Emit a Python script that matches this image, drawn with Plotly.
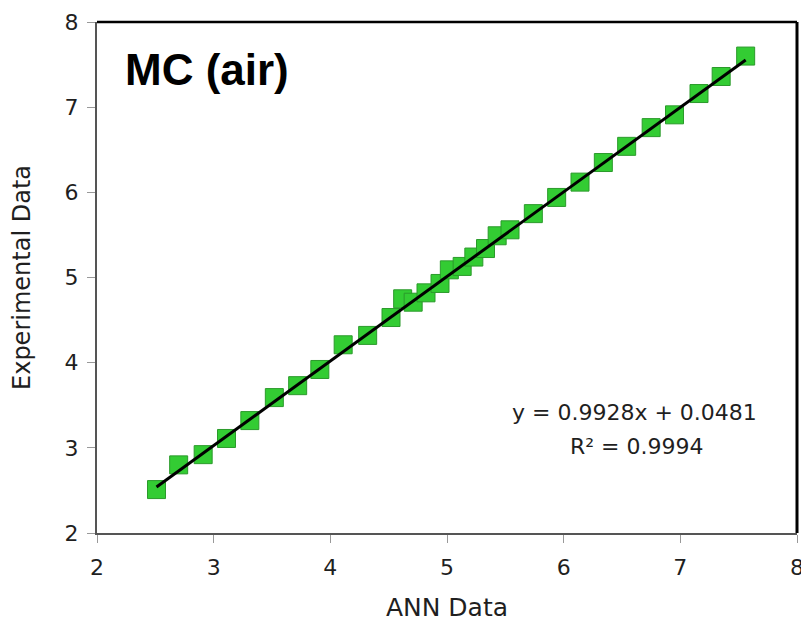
import plotly.graph_objects as go

# ---------- data ----------
ann_data = [2.51, 2.70, 2.91, 3.11, 3.31, 3.52, 3.72, 3.91, 4.11, 4.32, 4.52,
            4.62, 4.71, 4.82, 4.94, 5.02, 5.13, 5.23, 5.33, 5.43, 5.54,
            5.74, 5.94, 6.14, 6.34, 6.54, 6.75, 6.95, 7.16, 7.35, 7.56]
exp_data = [2.51, 2.80, 2.92, 3.11, 3.32, 3.59, 3.73, 3.92, 4.21, 4.32, 4.53,
            4.75, 4.71, 4.82, 4.93, 5.09, 5.13, 5.24, 5.34, 5.49, 5.56,
            5.75, 5.94, 6.12, 6.35, 6.54, 6.76, 6.91, 7.16, 7.36, 7.60]

slope, intercept, r2 = 0.9928, 0.0481, 0.9994
fit_x = [min(ann_data), max(ann_data)]
fit_y = [slope * v + intercept for v in fit_x]

FONT = "DejaVu Sans, sans-serif"
BOLD_FONT = "Liberation Sans, Arial, sans-serif"
TEXT_COLOR = "#1f1f1f"

fig = go.Figure()
fig.add_trace(go.Scatter(
    x=ann_data, y=exp_data, mode="markers",
    marker=dict(symbol="square", size=18, color="#33cc33",
                line=dict(color="#2b9a2b", width=1)),
    showlegend=False,
))
fig.add_trace(go.Scatter(
    x=fit_x, y=fit_y, mode="lines",
    line=dict(color="#000000", width=3),
    showlegend=False,
))

# タイトル（プロット内左上）
fig.add_annotation(x=0.037, y=0.908, xref="paper", yref="paper",
                   text="<b>MC (air)</b>", showarrow=False,
                   xanchor="left", yanchor="middle",
                   font=dict(size=44, color="#000000", family=BOLD_FONT))
# 回帰式
fig.add_annotation(x=6.61, y=3.42, text=f"y = {slope}x + {intercept}",
                   showarrow=False, xanchor="center", yanchor="middle",
                   font=dict(size=22, color=TEXT_COLOR, family=FONT))
fig.add_annotation(x=6.63, y=3.02, text=f"R² = {r2}",
                   showarrow=False, xanchor="center", yanchor="middle",
                   font=dict(size=22, color=TEXT_COLOR, family=FONT))

# 上・右の枠線（黒）
fig.add_shape(type="line", xref="paper", yref="paper", x0=0, x1=1, y0=1, y1=1,
              line=dict(color="#000000", width=2.5))
fig.add_shape(type="line", xref="paper", yref="paper", x0=1, x1=1, y0=0, y1=1,
              line=dict(color="#000000", width=3))

fig.update_xaxes(range=[2, 8], dtick=1, showgrid=False, zeroline=False,
                 showline=True, linecolor="#555555", linewidth=2,
                 ticks="outside", ticklen=8, tickcolor="#999999",
                 ticklabelstandoff=6, ticklabeloverflow="allow",
                 tickfont=dict(size=22, color=TEXT_COLOR, family=FONT),
                 title=dict(text="ANN Data", standoff=21,
                            font=dict(size=25, color=TEXT_COLOR, family=FONT)))
fig.update_yaxes(range=[2, 8], dtick=1, showgrid=False, zeroline=False,
                 showline=True, linecolor="#555555", linewidth=2,
                 ticks="outside", ticklen=8, tickcolor="#999999",
                 ticklabelstandoff=4, ticklabeloverflow="allow",
                 tickfont=dict(size=22, color=TEXT_COLOR, family=FONT),
                 title=dict(text="Experimental Data", standoff=27,
                            font=dict(size=24, color=TEXT_COLOR, family=FONT)))

fig.update_layout(
    width=801, height=622,
    margin=dict(l=97, r=4, t=22, b=89, autoexpand=False),
    plot_bgcolor="#ffffff", paper_bgcolor="#ffffff",
    font=dict(family=FONT),
)

fig.write_html("out.html", config={"displayModeBar": False},
               post_script="document.body.style.margin='0';")
